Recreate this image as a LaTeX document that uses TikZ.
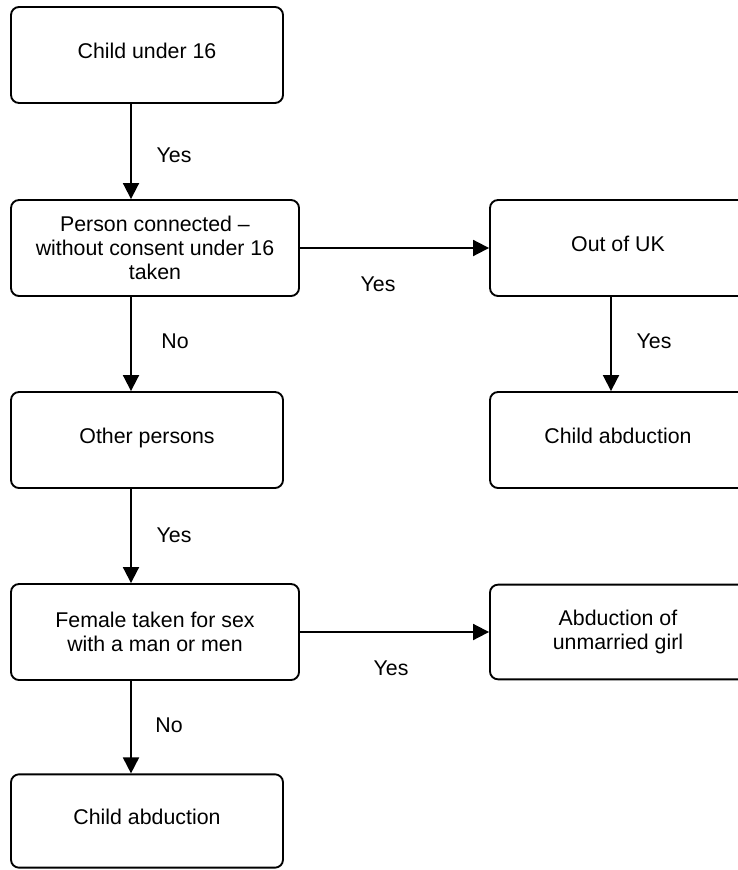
\documentclass[tikz,border=0pt]{standalone}
\usepackage{fontspec}
\setmainfont{Liberation Sans}
\usetikzlibrary{arrows.meta}
\begin{document}
\begin{tikzpicture}[x=0.75pt,y=-0.75pt,
  box/.style={draw, rounded corners=6pt, line width=1.4pt, inner sep=0pt, align=center,
    font=\fontsize{16pt}{18pt}\selectfont},
  narrowbox/.style={box, minimum width=204pt, minimum height=72pt},
  widebox/.style={box, minimum width=216pt, minimum height=72pt},
  rbox/.style={box, minimum width=192pt, minimum height=72pt},
  oneline/.style={text height=11.5pt, text depth=6pt},
  arr/.style={-{Triangle[length=12pt,width=12pt]}, line width=1.4pt},
  lab/.style={font=\fontsize{16pt}{18pt}\selectfont, inner sep=0pt}
]
\useasboundingbox (0,0) rectangle (738,870);
\clip (0,0) rectangle (738,870);

\coordinate (lx) at (131,0);
\coordinate (rx) at (611,0);

\node[narrowbox, oneline] (b1) at (147,55) {Child under 16};
\node[widebox] (b2) at (155,248) {Person connected --\\without consent under 16\\taken};
\node[narrowbox, oneline] (b3) at (147,440) {Other persons};
\node[widebox] (b4) at (155,632) {Female taken for sex\\with a man or men};
\node[narrowbox, oneline, minimum height=70pt] (b5) at (147,821) {Child abduction};

\node[rbox, oneline] (r1) at (618,248) {Out of UK};
\node[rbox, oneline] (r2) at (618,440) {Child abduction};
\node[rbox, minimum height=71pt] (r3) at (618,632) {Abduction of\\unmarried girl};

\draw[arr] (b1.south -| lx) -- (b2.north -| lx);
\draw[arr] (b2.south -| lx) -- (b3.north -| lx);
\draw[arr] (b3.south -| lx) -- (b4.north -| lx);
\draw[arr] (b4.south -| lx) -- (b5.north -| lx);
\draw[arr] (b2.east) -- (r1.west);
\draw[arr] (b4.east) -- (r3.west);
\draw[arr] (r1.south -| rx) -- (r2.north -| rx);

\node[lab] (l1) at (174,155) {Yes};
\node[lab] (l2) at (378,284) {Yes};
\node[lab] (l3) at (175,341) {No};
\node[lab] (l4) at (654,341) {Yes};
\node[lab] (l5) at (174,535) {Yes};
\node[lab] (l6) at (391,668) {Yes};
\node[lab] (l7) at (169,725) {No};
\end{tikzpicture}
\end{document}
